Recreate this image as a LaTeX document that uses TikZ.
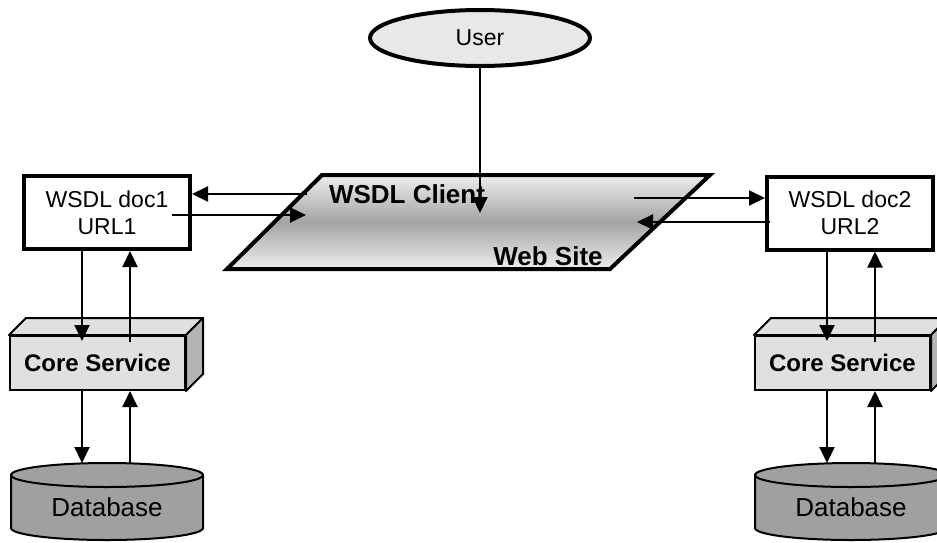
\documentclass[tikz,border=0pt]{standalone}
\usepackage{fontspec}
\setmainfont{Liberation Sans}
\usetikzlibrary{arrows.meta,shapes.geometric,calc}
\definecolor{userfill}{HTML}{E8E8E8}
\definecolor{corefill}{HTML}{E0E0E0}
\definecolor{coreside}{HTML}{B4B4B4}
\definecolor{dbfill}{HTML}{A0A0A0}
\definecolor{gradout}{HTML}{EEEEEE}
\definecolor{gradmid}{HTML}{A4A4A4}
\begin{document}
\begin{tikzpicture}[x=1pt,y=-1pt,
  arr/.style={line width=2pt,-{Triangle[length=16pt,width=15pt]}},
  doc/.style={draw,line width=4pt,fill=white,minimum width=166pt,minimum height=73pt,align=center,
    font=\fontsize{23}{27}\selectfont,inner sep=0pt},
  core/.style={draw,line width=2pt,fill=corefill,minimum width=175pt,minimum height=54pt,
    font=\bfseries\fontsize{24}{28}\selectfont,inner sep=0pt},
  face/.style={draw,line width=2pt,line join=round},
  dbtext/.style={font=\fontsize{26}{30}\selectfont,inner sep=0pt},
  bold/.style={font=\bfseries\fontsize{26}{30}\selectfont,inner sep=0pt}
]
\clip (0,0) rectangle (937,542);

% user
\node[ellipse,draw,line width=4pt,fill=userfill,minimum width=220pt,minimum height=56pt,
  font=\fontsize{23}{27}\selectfont,inner sep=0pt] (user) at (480,38) {User};

% web site parallelogram
\path[draw,line width=4pt,line join=miter,top color=gradout,bottom color=gradout,middle color=gradmid]
  (322,175) -- (710,175) -- (610,269) -- (227,269) -- cycle;
\node[bold] (client) at (407,194) {WSDL Client};
\node[bold] (websiteL) at (548,256) {Web Site};

% WSDL boxes
\node[doc] (doc1) at (107,212.5) {WSDL doc1\\URL1};
\node[doc] (doc2) at (850,213) {WSDL doc2\\URL2};

% core services
\foreach \n/\x in {cs1/97.5,cs2/842.5}{
  \node[core] (\n) at (\x,363) {Core Service};
  \path[face,fill=corefill] (\n.north west) -- ++(17,-17) -- ($(\n.north east)+(17,-17)$) -- (\n.north east) -- cycle;
  \path[face,fill=coreside] (\n.north east) -- ++(17,-17) -- ($(\n.south east)+(17,-17)$) -- (\n.south east) -- cycle;
}

% databases
\foreach \n/\x in {db1/107,db2/851}{
  \path[draw,line width=2pt,fill=dbfill] (\x-96,475) -- (\x-96,528)
    arc[start angle=180,end angle=360,x radius=96,y radius=-12]
    -- (\x+96,475) arc[start angle=0,end angle=180,x radius=96,y radius=-12] -- cycle;
  \path[draw,line width=2pt] (\x-96,475) arc[start angle=180,end angle=360,x radius=96,y radius=-12];
  \node[dbtext] (\n) at (\x,507) {Database};
  \coordinate (\n top) at (\x,463);
}

% user arrow
\draw[arr] (user.south) -- (480,213);

% left horizontal arrows
\coordinate (p1) at (307,194);
\draw[arr] (p1) -- (p1 -| doc1.east);
\coordinate (q1) at (172,215);
\coordinate (p2) at (306,215);
\draw[arr] (q1) -- (p2);

% right horizontal arrows
\coordinate (p3) at (634,198);
\draw[arr] (p3) -- (p3 -| doc2.west);
\coordinate (q2) at (770,222);
\coordinate (p4) at (637,222);
\draw[arr] (q2) -- (p4);

% vertical arrows
\foreach \d/\c/\db/\xa/\xb in {doc1/cs1/db1/82/130,doc2/cs2/db2/827/875}{
  \coordinate (xa) at (\xa,0);
  \coordinate (xb) at (\xb,0);
  \draw[arr] ([yshift=4pt]\d.south -| xa) -- ([yshift=-6pt]\c.north -| xa);
  \draw[arr] ([yshift=-7pt]\c.north -| xb) -- (\d.south -| xb);
  \draw[arr] (\c.south -| xa) -- (\db top -| xa);
  \draw[arr] (\db top -| xb) -- (\c.south -| xb);
}
\end{tikzpicture}
\end{document}
